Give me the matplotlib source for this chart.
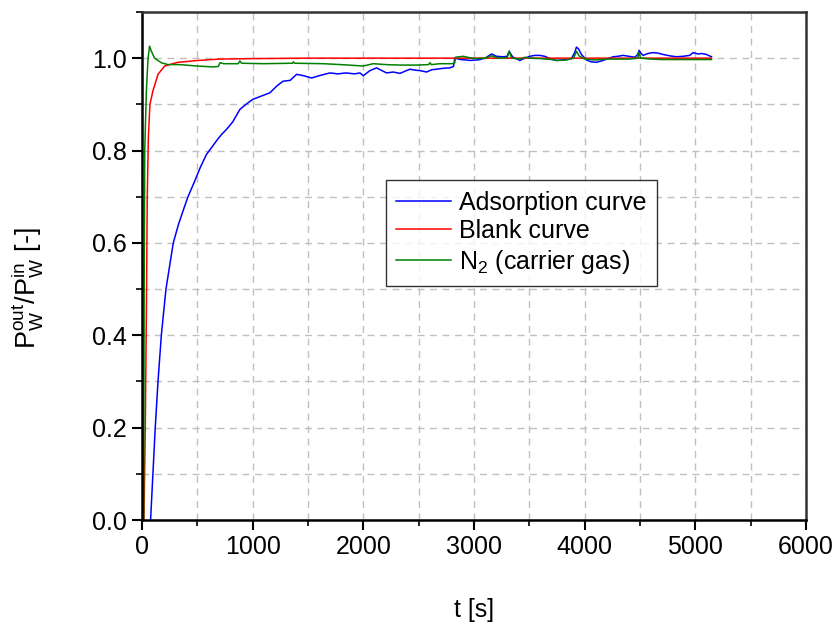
import matplotlib
matplotlib.use("Agg")
import matplotlib.pyplot as plt
from matplotlib.ticker import MultipleLocator

plt.rcParams['font.family'] = ['Liberation Sans', 'DejaVu Sans']
plt.rcParams['mathtext.fontset'] = 'custom'
plt.rcParams['mathtext.rm'] = 'Liberation Sans'

# ---- data ----
t_ads = [78, 99, 120, 145, 175, 217, 250, 283, 330, 375, 416, 470, 530, 584, 640, 689, 720, 765,
         820, 885, 940, 1003, 1080, 1156, 1220, 1274, 1340, 1397, 1460, 1533, 1600, 1698, 1770,
         1843, 1920, 1969, 2000, 2060, 2120, 2160, 2210, 2270, 2331, 2380, 2421, 2470, 2512, 2572,
         2620, 2662, 2720, 2782, 2815, 2827, 2880, 2932, 2963, 3023, 3053, 3100, 3159, 3204, 3264,
         3300, 3318, 3340, 3354, 3415, 3460, 3505, 3550, 3595, 3640, 3686, 3746, 3790, 3836, 3880,
         3910, 3926, 3945, 3971, 4017, 4060, 4107, 4167, 4210, 4258, 4300, 4348, 4400, 4454, 4480,
         4492, 4510, 4529, 4570, 4619, 4660, 4709, 4770, 4830, 4890, 4950, 4980, 5025, 5060, 5100,
         5146]
y_ads = [0.0, 0.1, 0.2, 0.3, 0.4, 0.5, 0.55, 0.6, 0.64, 0.672, 0.7, 0.73, 0.765, 0.792, 0.81,
         0.826, 0.835, 0.846, 0.862, 0.889, 0.9, 0.911, 0.918, 0.925, 0.94, 0.95, 0.952, 0.965,
         0.962, 0.957, 0.962, 0.968, 0.966, 0.968, 0.966, 0.968, 0.962, 0.973, 0.979, 0.974, 0.968,
         0.97, 0.967, 0.972, 0.976, 0.974, 0.973, 0.97, 0.975, 0.976, 0.978, 0.979, 0.982, 1.0,
         0.997, 0.996, 0.995, 0.996, 0.997, 1.0, 1.009, 1.004, 1.003, 1.004, 1.015, 1.006, 1.002,
         0.995, 1.0, 1.004, 1.006, 1.006, 1.004, 0.999, 0.995, 0.996, 0.997, 0.999, 1.012, 1.024,
         1.02, 1.008, 0.996, 0.992, 0.991, 0.995, 0.999, 1.003, 1.004, 1.006, 1.004, 1.002, 1.008,
         1.017, 1.01, 1.006, 1.01, 1.012, 1.011, 1.008, 1.005, 1.003, 1.004, 1.006, 1.012, 1.009,
         1.01, 1.008, 1.003]

t_blank = [18, 30, 40, 48, 58, 72, 99, 145, 205, 325, 506, 700, 1000, 1500, 2000, 3000, 4000, 5146]
y_blank = [0.0, 0.2, 0.45, 0.7, 0.83, 0.9, 0.929, 0.965, 0.983, 0.991, 0.995, 0.998, 0.999,
           1.0, 1.0, 1.0, 1.0, 1.0]

t_n2 = [15, 20, 25, 40, 55, 69, 85, 114, 175, 235, 343, 494, 643, 690, 705, 740, 870, 885, 900,
        1096, 1360, 1367, 1380, 1638, 1800, 2000, 2090, 2210, 2331, 2481, 2590, 2602, 2615, 2692,
        2798, 2825, 2834, 2902, 3000, 3100, 3159, 3220, 3300, 3318, 3340, 3420, 3460, 3500, 3600,
        3700, 3750, 3836, 3900, 3926, 3950, 4000, 4100, 4200, 4300, 4400, 4480, 4492, 4505, 4600,
        4700, 4800, 4900, 5000, 5146]
y_n2 = [0.0, 0.5, 0.8, 0.93, 1.0, 1.026, 1.015, 1.0, 0.99, 0.986, 0.986, 0.983, 0.981, 0.982,
        0.99, 0.988, 0.988, 0.994, 0.989, 0.988, 0.989, 0.992, 0.989, 0.988, 0.986, 0.983, 0.988,
        0.986, 0.985, 0.985, 0.986, 0.99, 0.986, 0.988, 0.988, 0.989, 1.002, 1.004, 0.999, 1.0,
        1.005, 1.0, 1.001, 1.015, 1.0, 0.998, 1.002, 1.0, 0.999, 0.997, 0.995, 0.996, 1.0, 1.015,
        1.005, 0.998, 0.996, 0.998, 0.998, 0.998, 1.0, 1.013, 1.0, 0.998, 0.997, 0.997, 0.997,
        0.997, 0.997]

labels = ["Adsorption curve", "Blank curve", r"N$_\mathregular{2}$ (carrier gas)"]

# ---- plot ----
fig = plt.figure(figsize=(8.4, 6.3), dpi=100)
ax = fig.add_axes([0.169, 0.1746, 0.7905, 0.8064])

ax.plot(t_ads, y_ads, color="#0000ff", lw=1.1, label=labels[0])
ax.plot(t_blank, y_blank, color="#ff0000", lw=1.1, label=labels[1])
ax.plot(t_n2, y_n2, color="#008000", lw=1.1, label=labels[2])

ax.set_xlim(0, 6000)
ax.set_ylim(0, 1.1)
ax.xaxis.set_major_locator(MultipleLocator(1000))
ax.xaxis.set_minor_locator(MultipleLocator(500))
ax.yaxis.set_major_locator(MultipleLocator(0.2))
ax.yaxis.set_minor_locator(MultipleLocator(0.1))
ax.yaxis.set_major_formatter(plt.FuncFormatter(lambda v, p: f"{v:.1f}"))

ax.grid(which="both", color="#c0c0c0", ls=(0, (5, 4)), lw=1)
ax.set_axisbelow(True)

ax.tick_params(which="major", direction="out", length=7.5, width=1.5, labelsize=18,
               top=False, right=False)
ax.tick_params(which="minor", direction="out", length=4, width=1.2, top=False, right=False)
for s in ax.spines.values():
    s.set_linewidth(1.8)
ax.spines["top"].set_color("#333333")
ax.spines["right"].set_color("#333333")

ax.set_xlabel("t [s]", fontsize=18, labelpad=28)
ax.set_ylabel(r"P$_\mathregular{W}^\mathregular{out}$/P$_\mathregular{W}^\mathregular{in}$ [-]",
              fontsize=19.5)
ax.yaxis.set_label_coords(-0.146, 0.457)

leg = ax.legend(loc="upper left", bbox_to_anchor=(0.3675, 0.669), borderaxespad=0,
                fancybox=False, edgecolor="black", fontsize=18, handlelength=2.2,
                labelspacing=0.18, borderpad=0.42, handletextpad=0.3)
leg.get_frame().set_linewidth(1.0)

fig.savefig("out.png", dpi=100)
